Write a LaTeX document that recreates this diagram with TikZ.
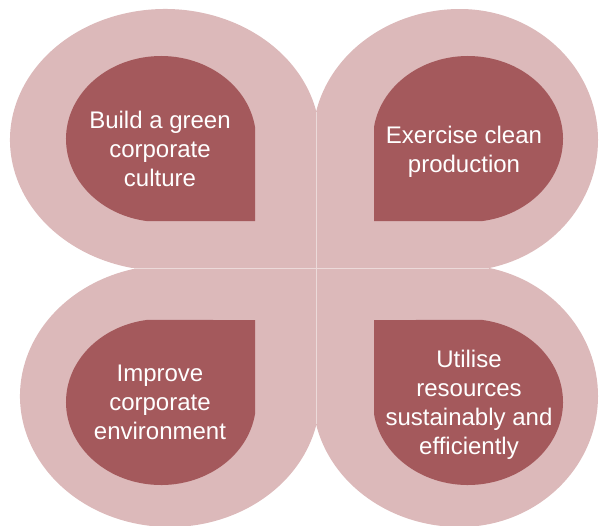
\documentclass[tikz,border=0pt]{standalone}
\usepackage{fontspec}
\setmainfont{Liberation Sans}
\definecolor{petalouter}{RGB}{220,185,186}
\definecolor{petalinner}{RGB}{164,89,92}
\definecolor{seam}{RGB}{236,218,218}
\tikzset{
  outerpetal/.style={fill=petalouter},
  innerpetal/.style={fill=petalinner},
  seamline/.style={draw=seam, line width=0.9pt},
  petaltext/.style={text=white, inner sep=0pt, anchor=base, font=\fontsize{24}{29}\selectfont}
}
\begin{document}
\begin{tikzpicture}[x=1pt,y=1pt]
\useasboundingbox (0,0) rectangle (601,-525);
% outer petals
\fill[outerpetal] (316,-268) -- ([shift={(165,-140)}]13.1:155pt and 131pt)
  arc[start angle=13.1, end angle=257.7, x radius=155pt, y radius=131pt] -- cycle;
\fill[outerpetal] (316,-268) -- ([shift={(460,-140)}]167.7:147.4pt and 131pt)
  arc[start angle=167.7, end angle=90, x radius=147.4pt, y radius=131pt]
  arc[start angle=90, end angle=-77.7, x radius=138pt, y radius=131pt] -- cycle;
\fill[outerpetal] (316,-268) -- ([shift={(170,-396)}]-13.3:150pt and 131pt)
  arc[start angle=-13.3, end angle=-257.7, x radius=150pt, y radius=131pt] -- cycle;
\fill[outerpetal] (316,-268) -- ([shift={(460,-396)}]-167.7:147.4pt and 131pt)
  arc[start angle=-167.7, end angle=-90, x radius=147.4pt, y radius=131pt]
  arc[start angle=-90, end angle=77.7, x radius=138pt, y radius=131pt] -- cycle;
% seams
\draw[seamline] (316,-112) -- (316,-424);
\draw[seamline] (134,-268) -- (489,-268);
% inner petals
\fill[innerpetal] (255,-221) -- ([shift={(161,-139)}]8.3:95pt and 83pt)
  arc[start angle=8.3, end angle=261.2, x radius=95pt, y radius=83pt] -- cycle;
\fill[innerpetal] (374,-221) -- ([shift={(468,-139)}]171.7:95pt and 83pt)
  arc[start angle=171.7, end angle=-81.2, x radius=95pt, y radius=83pt] -- cycle;
\fill[innerpetal] (255,-320) -- ([shift={(161,-402)}]-8.3:95pt and 83pt)
  arc[start angle=-8.3, end angle=-261.2, x radius=95pt, y radius=83pt] -- cycle;
\fill[innerpetal] (374,-320) -- ([shift={(468,-402)}]-171.7:95pt and 83pt)
  arc[start angle=-171.7, end angle=81.2, x radius=95pt, y radius=83pt] -- cycle;
% texts
\node[petaltext] (tl) at (160,-128) {\begin{tabular}[t]{@{}c@{}}Build a green\\corporate\\culture\end{tabular}};
\node[petaltext] (tr) at (464,-143) {\begin{tabular}[t]{@{}c@{}}Exercise clean\\production\end{tabular}};
\node[petaltext] (bl) at (160,-381) {\begin{tabular}[t]{@{}c@{}}Improve\\corporate\\environment\end{tabular}};
\node[petaltext] (br) at (469,-367) {\begin{tabular}[t]{@{}c@{}}Utilise\\resources\\sustainably and\\efficiently\end{tabular}};
\end{tikzpicture}
\end{document}
